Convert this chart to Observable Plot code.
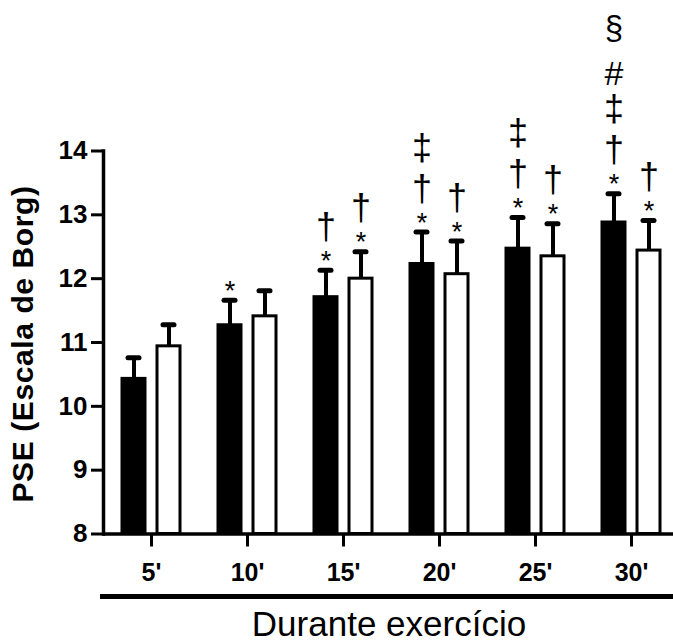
<!DOCTYPE html>
<html>
<head>
<meta charset="utf-8">
<script src="https://cdn.jsdelivr.net/npm/d3@7"></script>
<script src="https://cdn.jsdelivr.net/npm/@observablehq/plot@0.6"></script>
<style>
  html, body { margin: 0; padding: 0; background: #fff; }
  #wrap { position: relative; width: 673px; height: 644px; overflow: hidden; background: #fff;
          font-family: "Liberation Sans", Arial, sans-serif; color: #000; }
  #chart { position: absolute; left: 0; top: 0; }
  #ytitle { position: absolute; left: -177px; top: 328.5px; width: 400px; height: 30px; line-height: 30px;
            text-align: center; font-size: 30px; font-weight: bold; letter-spacing: 0.6px;
            transform: rotate(-90deg); white-space: nowrap; }
  #underline { position: absolute; left: 100px; top: 594px; width: 573px; height: 5px; background: #000; }
  #xtitle { position: absolute; left: 189px; top: 609px; width: 400px; height: 30px; line-height: 30px;
            text-align: center; font-size: 35px; white-space: nowrap; }
</style>
</head>
<body>
<div id="wrap">
  <div id="chart"></div>
  <div id="ytitle"></div>
  <div id="underline"></div>
  <div id="xtitle"></div>
</div>
<script>
// ---- data ----
const times = ["5'", "10'", "15'", "20'", "25'", "30'"];
const groups = ["A", "B"];               // A = filled bars, B = open bars
const meansA = [10.43, 11.27, 11.71, 12.23, 12.47, 12.88];
const errA   = [0.33, 0.39, 0.42, 0.50, 0.49, 0.45];
const meansB = [10.94, 11.41, 12.00, 12.07, 12.35, 12.44];
const errB   = [0.34, 0.40, 0.42, 0.52, 0.51, 0.47];
const symbolsA = ["", "*", "*†", "*†‡", "*†‡", "*†‡#§"];
const symbolsB = ["", "", "*†", "*†", "*†", "*†"];
const yTicks = [8, 9, 10, 11, 12, 13, 14];
const yTitle = "PSE (Escala de Borg)";
const xTitle = "Durante exercício";

// ---- tables built from the arrays ----
const rows = times.flatMap((t, i) => [
  {time: t, group: "A", mean: meansA[i], err: errA[i], sym: symbolsA[i]},
  {time: t, group: "B", mean: meansB[i], err: errB[i], sym: symbolsB[i]}
]);
const annots = rows.flatMap(r => Array.from(r.sym).map(s => ({time: r.time, group: r.group, top: r.mean + r.err, s})));

const symStyle = {
  "*": {dy: -9, fontSize: 27},
  "†": {dy: -43, fontSize: 36},
  "‡": {dy: -84, fontSize: 36},
  "#": {dy: -120, fontSize: 34},
  "§": {dy: -165, fontSize: 33}
};
const symMarks = Object.keys(symStyle).map(s =>
  Plot.text(annots.filter(a => a.s === s), {
    fx: "time", x: "group", y: "top", text: "s",
    dy: symStyle[s].dy, fontSize: symStyle[s].fontSize, fill: "black"
  })
);

const yMin = yTicks[0], yMax = yTicks[yTicks.length - 1];

const chart = Plot.plot({
  width: 673,
  height: 585,
  marginTop: 150.5,
  marginBottom: 51.5,
  marginLeft: 102.5,
  marginRight: 0,
  style: {fontFamily: "'Liberation Sans', Arial, sans-serif", color: "black", background: "white", overflow: "visible"},
  fx: {domain: times, range: [102.5, 679.5], padding: 0},
  x: {domain: groups, paddingInner: 0.258, paddingOuter: 0.4625, axis: null},
  y: {domain: [yMin, yMax]},
  marks: [
    Plot.barY(rows, {
      fx: "time", x: "group", y1: yMin, y2: "mean",
      fill: d => d.group === "A" ? "black" : "white",
      stroke: "black", strokeWidth: 3, insetLeft: 1.5, insetRight: 1.5
    }),
    Plot.ruleX(rows, {fx: "time", x: "group", y1: "mean", y2: d => d.mean + d.err, stroke: "black", strokeWidth: 4}),
    Plot.tickY(rows, {fx: "time", x: "group", y: d => d.mean + d.err, stroke: "black", strokeWidth: 5,
      strokeLinecap: "round", insetLeft: 7.5, insetRight: 7.5}),
    ...symMarks,
    Plot.ruleY([yMin], {stroke: "black", strokeWidth: 3.5}),
    Plot.frame({anchor: "left", facetAnchor: "left", stroke: "black", strokeWidth: 3.5}),
    Plot.axisY({ticks: yTicks, tickSize: 12, tickPadding: 4, fontSize: 26, fontWeight: "bold",
      strokeWidth: 3, label: null, tickFormat: d => String(d)}),
    Plot.axisFx({anchor: "bottom", tickSize: 13, tickPadding: 16, fontSize: 25, fontWeight: "bold",
      strokeWidth: 3, label: null})
  ]
});
document.getElementById("chart").appendChild(chart);
document.getElementById("ytitle").textContent = yTitle;
document.getElementById("xtitle").textContent = xTitle;
</script>
</body>
</html>
